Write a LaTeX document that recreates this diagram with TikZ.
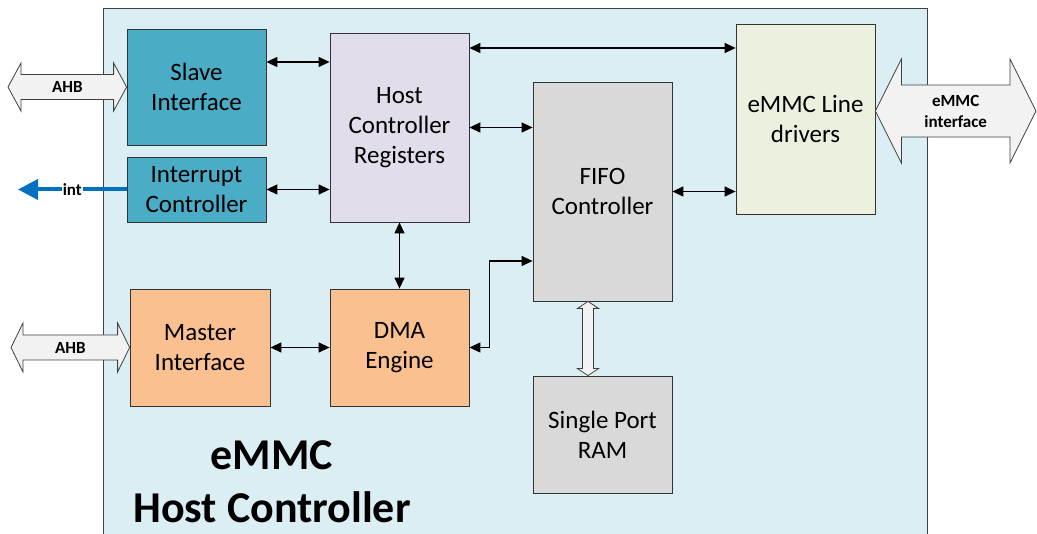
\documentclass[tikz,border=0pt]{standalone}
\usepackage{fontspec}
\setmainfont{Carlito}
\usepackage{tikz}
\usetikzlibrary{positioning,arrows.meta,calc}
\definecolor{bgblue}{HTML}{DAEEF3}
\definecolor{slaveteal}{HTML}{4BACC6}
\definecolor{regpurple}{HTML}{E2DDEB}
\definecolor{fifogray}{HTML}{D9D9D9}
\definecolor{drvgreen}{HTML}{EBF1DE}
\definecolor{dmaorange}{HTML}{FAC090}
\definecolor{intblue}{HTML}{0070C0}
\definecolor{arrowgray}{HTML}{F2F2F2}
% hollow double arrow between two points on one horizontal line
\newcommand{\fatarrow}[5]{%
  \draw[fat] let \p1=(#1), \p2=(#2) in
    (\p1) -- (\x1+#3,\y1+#5) -- (\x1+#3,\y1+#4) -- (\x2-#3,\y1+#4) -- (\x2-#3,\y1+#5)
    -- (\x2,\y1) -- (\x2-#3,\y1-#5) -- (\x2-#3,\y1-#4) -- (\x1+#3,\y1-#4) -- (\x1+#3,\y1-#5) -- cycle;}

\begin{document}
\begin{tikzpicture}[x=1pt,y=-1pt,
  block/.style={draw=black!80, line width=0.8pt, minimum width=139pt, inner sep=0pt,
    align=center, font=\fontsize{25}{30}\selectfont},
  link/.style={line width=1.3pt, {Triangle[length=11pt,width=10pt]}-{Triangle[length=11pt,width=10pt]}},
  fat/.style={draw=black!75, fill=arrowgray, line width=0.8pt},
  lbl/.style={font=\bfseries\fontsize{17}{21}\selectfont, align=center}]
  \useasboundingbox (0,0) rectangle (1037,534);
  % outer block
  \draw[fill=bgblue, draw=black!75, line width=0.8pt] (103,8) rectangle (927,545);
  % bus interfaces
  \coordinate (ahbs) at (8,87);
  \coordinate (ahbm) at (11,347.5);
  \coordinate (emmcout) at (1036,111);
  \node[block, fill=slaveteal, minimum height=116pt] (slave) at (196.5,87) {Slave\\Interface};
  \node[block, fill=slaveteal, minimum height=65pt] (intc) at (196.5,189.5) {Interrupt\\Controller};
  \node[block, fill=regpurple, minimum height=189pt] (hregs) at (399.5,127.5) {Host\\Controller\\Registers};
  \node[block, fill=fifogray, minimum height=219pt] (fifo) at (602.5,191.5) {FIFO\\Controller};
  \node[block, fill=drvgreen, minimum height=190pt] (lined) at (805.5,119) {eMMC Line\\drivers};
  \node[block, fill=dmaorange, minimum height=117pt, minimum width=140pt] (master) at (200,347.5) {Master\\Interface};
  \node[block, fill=dmaorange, minimum height=117pt] (dma) at (399.5,347.5) {DMA\\Engine};
  \node[block, fill=fifogray, minimum height=117pt] (ram) at (602.5,434.5) {Single Port\\RAM};
  \node[font=\bfseries\fontsize{44}{53}\selectfont, align=center] (ttl) at (272,481.5) {eMMC\\Host Controller};
  % fat arrows
  \fatarrow{ahbs}{slave.west}{13pt}{12.5pt}{24pt}
  \node[lbl] (ahbslbl) at ($(ahbs)!0.5!(slave.west)$) {AHB};
  \fatarrow{ahbm}{master.west}{12pt}{12.5pt}{24.5pt}
  \node[lbl] (ahbmlbl) at ($(ahbm)!0.5!(master.west)$) {AHB};
  \fatarrow{lined.east |- 0,111}{emmcout}{26pt}{26pt}{52pt}
  \node[lbl] (emmclbl) at ($(lined.east |- 0,111)!0.5!(emmcout)$) {eMMC\\interface};
  \draw[fat] let \p1=(fifo.south -| 588,0), \p2=(ram.north -| 588,0) in
    (\p1) -- (\x1+10.5pt,\y1-7pt) -- (\x1+5.5pt,\y1-7pt) -- (\x1+5.5pt,\y2+7pt) -- (\x1+10.5pt,\y2+7pt)
    -- (\x1,\y2) -- (\x1-10.5pt,\y2+7pt) -- (\x1-5.5pt,\y2+7pt) -- (\x1-5.5pt,\y1-7pt) -- (\x1-10.5pt,\y1-7pt) -- cycle;
  % interrupt out
  \coordinate (intout) at (18,189.5);
  \draw[intblue, line width=4pt, -{Triangle[length=20pt,width=20pt]}] (intc.west) --
    node[lbl, fill=white, text=black, inner sep=1pt] (intlbl) {int} (intout);
  % internal links
  \draw[link] (slave.east |- 0,62) -- (hregs.west |- 0,62);
  \draw[link] (intc.east) -- (intc.east -| hregs.west);
  \draw[link] (hregs.east |- 0,48) -- (lined.west |- 0,48);
  \draw[link] (hregs.east) -- (hregs.east -| fifo.west);
  \draw[link] (fifo.east) -- (fifo.east -| lined.west);
  \draw[link] (hregs.south) -- (dma.north);
  \draw[link] (master.east) -- (master.east -| dma.west);
  \draw[link] (dma.east) -- ++(20,0) |- (fifo.west |- 0,261);
\end{tikzpicture}
\end{document}
